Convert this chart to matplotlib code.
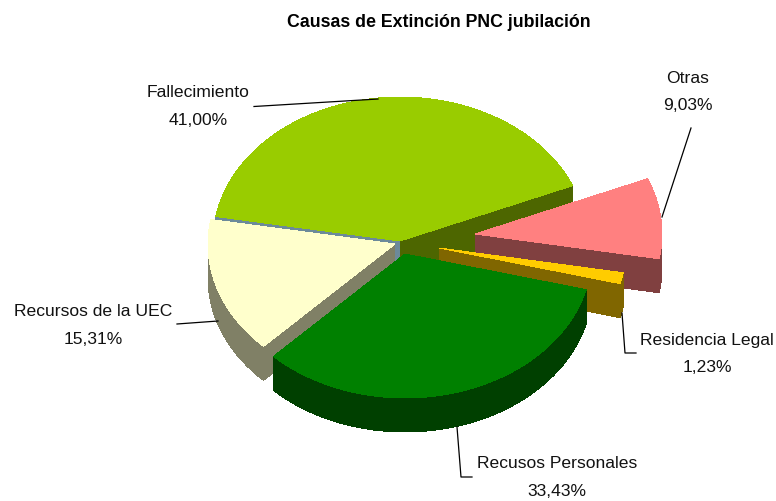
import numpy as np
import matplotlib
matplotlib.use('Agg')
import matplotlib.pyplot as plt

# Slices in drawing order around the pie
labels = ['Fallecimiento', 'Recursos de la UEC', 'Recusos Personales', 'Residencia Legal', 'Otras']
values = [41.00, 15.31, 33.43, 1.23, 9.03]

top_colors = ['#99CC00', '#FFFFCC', '#008000', '#FFCC00', '#FF8080']
wall_colors = ['#4D6600', '#808066', '#004000', '#806600', '#804040']

# Pie geometry in pixels
start_angle = 22.6
rx, ry = 187, 144
depth = 34
tips = [(400, 241), (395, 244), (405, 254), (439, 248), (475, 234)]

# Label centres and leader lines, in pixels
label_pos = [(198, 92, 120), (93, 311, 340), (557, 463, 491), (707, 341, 368), (688, 78, 105)]
leaders = [
    [(254, 106.5), (378, 99)],
    [(177, 324), (218, 321)],
    [(457, 427), (461, 477), (472, 477)],
    [(622, 313), (625, 353), (636, 353)],
    [(691, 128), (662, 217)],
]

plt.rcParams['font.family'] = ['Liberation Sans', 'DejaVu Sans']

fig = plt.figure(figsize=(7.76, 5.01), dpi=100)
ax = fig.add_axes([0, 0, 1, 1])
ax.set_xlim(0, 776)
ax.set_ylim(501, 0)
ax.axis('off')


def slice_outline(tip, a0, a1):
    # Wedge of the tilted disc, screen y grows downward
    angles = np.radians(np.linspace(a0, a1, 120))
    xs = tip[0] + rx * np.cos(angles)
    ys = tip[1] - ry * np.sin(angles)
    return np.r_[tip[0], xs], np.r_[tip[1], ys]


# Angle limits of every slice come from the values
edges = start_angle + np.r_[0, np.cumsum(values)] * 360 / sum(values)
outlines = [slice_outline(tips[i], edges[i], edges[i + 1]) for i in range(len(values))]

# Back to front: Fallecimiento, Otras, Residencia, UEC, Personales
for i in [0, 4, 3, 1, 2]:
    xs, ys = outlines[i]
    xc = np.r_[xs, xs[0]]
    yc = np.r_[ys, ys[0]]
    for j in range(len(xs)):
        ax.fill([xc[j], xc[j + 1], xc[j + 1], xc[j]],
                [yc[j], yc[j + 1], yc[j + 1] + depth, yc[j] + depth],
                color=wall_colors[i], lw=0, antialiased=False)
    if i == 0:
        # the cut face next to the UEC slice shows as a thin grey-blue strip
        ax.fill([xs[0], xs[-1], xs[-1], xs[0]],
                [ys[0], ys[-1], ys[-1] + depth, ys[0] + depth],
                color='#6C8A9A', lw=0, antialiased=False)
    ax.fill(xs, ys, color=top_colors[i], lw=0, antialiased=False)

for line in leaders:
    ax.plot([p[0] for p in line], [p[1] for p in line], color='black', lw=0.9)

for name, value, (x, y1, y2) in zip(labels, values, label_pos):
    ax.text(x, y1, name, ha='center', va='center', fontsize=12.6, color='#111111')
    ax.text(x, y2, f'{value:.2f}%'.replace('.', ','), ha='center', va='center',
            fontsize=12.6, color='#111111')

ax.text(439, 22.5, 'Causas de Extinción PNC jubilación', ha='center', va='center',
        fontsize=12.75, fontweight='bold', color='black')

fig.savefig('out.png', dpi=100)
